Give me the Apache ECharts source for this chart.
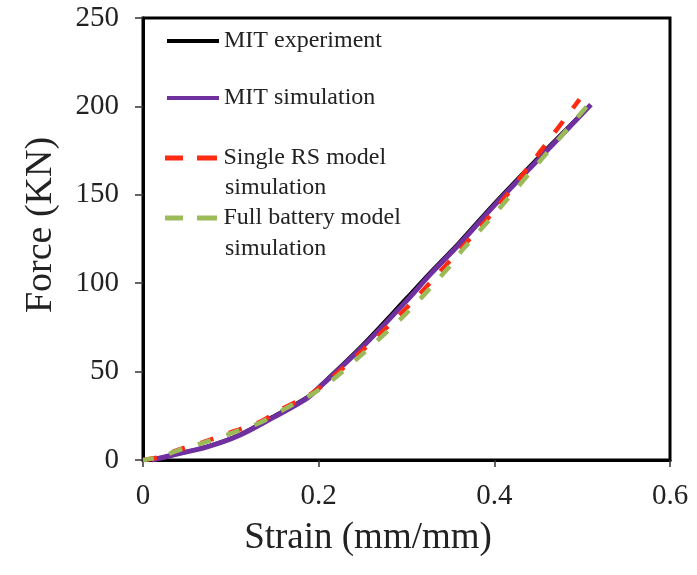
<!DOCTYPE html>
<html>
<head>
<meta charset="utf-8">
<script src="https://cdn.jsdelivr.net/npm/echarts@6/dist/echarts.min.js"></script>
<style>html,body{margin:0;padding:0;background:#fff;}#c{width:697px;height:575px;}</style>
</head>
<body>
<div id="c"></div>
<script>
// ---- data ----
const xTicks = [0, 0.2, 0.4, 0.6];
const yTicks = [0, 50, 100, 150, 200, 250];
const seriesNames = ['MIT experiment', 'MIT simulation', 'Single RS model\nsimulation', 'Full battery model\nsimulation'];
const mitExperiment = [[0.01,0],[0.034,2.8],[0.073,7.6],[0.11,14.3],[0.148,24.5],[0.187,35.5],[0.205,43.5],[0.25,65],[0.3,91.5],[0.327,106],[0.36,123],[0.4,145],[0.452,172],[0.5,196]];
const mitSimulation = [[0.01,0],[0.034,2.8],[0.073,7.4],[0.11,14],[0.148,24],[0.187,35],[0.205,43],[0.25,64],[0.3,90],[0.327,105],[0.36,122],[0.4,144],[0.452,171],[0.51,201]];
const singleRS = [[0,0],[0.02,1.7],[0.04,5.7],[0.068,10],[0.102,16],[0.133,21.5],[0.159,29],[0.19,37],[0.209,44],[0.25,62],[0.3,86],[0.35,113],[0.4,141],[0.45,173],[0.497,204]];
const fullBattery = [[0,0],[0.02,1.7],[0.04,5.5],[0.07,10],[0.1,15],[0.135,21.5],[0.16,28.5],[0.19,36.5],[0.21,43],[0.25,60],[0.3,83],[0.35,110],[0.364,119],[0.4,139],[0.45,168],[0.507,201]];

const serif = '"Liberation Serif", "DejaVu Serif", serif';
const colors = ['#000000', '#70309f', '#ff2a12', '#9bbb59'];
const dashIcon = 'path://M0,0h18v5h-18z M32,0h20v5h-20z';

const chart = echarts.init(document.getElementById('c'));

function legendFor(i, top, label) {
  const dashed = i >= 2;
  return {
    left: 165, top: top, padding: 0, orient: 'vertical',
    itemWidth: dashed ? 55 : 52, itemHeight: dashed ? 5 : 6, selectedMode: false,
    data: [dashed ? { name: seriesNames[i], icon: dashIcon } : seriesNames[i]],
    formatter: () => label,
    textStyle: { fontFamily: serif, fontSize: 24, color: '#222' },
    itemStyle: dashed ? { opacity: 1, borderWidth: 0 } : { opacity: 0, borderWidth: 0 },
    lineStyle: { width: 4 }
  };
}

chart.setOption({
  animation: false,
  backgroundColor: '#fff',
  grid: { left: 143, right: 27, top: 18, bottom: 115, show: true, borderColor: '#000', borderWidth: 3, backgroundColor: 'transparent' },
  xAxis: {
    type: 'value', min: xTicks[0], max: xTicks[xTicks.length - 1], interval: 0.2,
    axisLine: { show: true, lineStyle: { color: '#000', width: 3 } },
    axisTick: { show: true, inside: false, length: 7, lineStyle: { color: '#333', width: 1.5 } },
    axisLabel: { margin: 22, fontFamily: serif, fontSize: 29, color: '#222', formatter: v => String(+v.toFixed(1)) },
    splitLine: { show: false }
  },
  yAxis: {
    type: 'value', min: yTicks[0], max: yTicks[yTicks.length - 1], interval: 50,
    axisLine: { show: true, lineStyle: { color: '#000', width: 3 } },
    axisTick: { show: true, inside: false, length: 8, lineStyle: { color: '#333', width: 1.5 } },
    axisLabel: { margin: 24, fontFamily: serif, fontSize: 29, color: '#222' },
    splitLine: { show: false }
  },
  legend: [
    legendFor(0, 29, 'MIT experiment'),
    legendFor(1, 86, 'MIT simulation'),
    legendFor(2, 146, 'Single RS model'),
    legendFor(3, 206, 'Full battery model')
  ],
  graphic: [
    { type: 'text', left: 225, top: 176, style: { text: 'simulation', font: '24px ' + serif, fill: '#222' } },
    { type: 'text', left: 225, top: 237, style: { text: 'simulation', font: '24px ' + serif, fill: '#222' } },
    { type: 'text', x: 368, y: 538, style: { text: 'Strain (mm/mm)', font: '37px ' + serif, fill: '#222', align: 'center', verticalAlign: 'middle' } },
    { type: 'text', x: 41, y: 225, rotation: Math.PI / 2, style: { text: 'Force (KN)', font: '38px ' + serif, fill: '#222', align: 'center', verticalAlign: 'middle' } }
  ],
  series: [
    { name: seriesNames[0], type: 'line', data: mitExperiment, showSymbol: false, symbol: 'none', smooth: 0.3, lineStyle: { color: colors[0], width: 4 }, itemStyle: { color: colors[0] }, z: 2 },
    { name: seriesNames[1], type: 'line', data: mitSimulation, showSymbol: false, symbol: 'none', smooth: 0.3, lineStyle: { color: colors[1], width: 5 }, itemStyle: { color: colors[1] }, z: 3 },
    { name: seriesNames[2], type: 'line', data: singleRS, showSymbol: false, symbol: 'none', smooth: 0.3, lineStyle: { color: colors[2], width: 4.5, type: [14, 16] }, itemStyle: { color: colors[2] }, z: 4 },
    { name: seriesNames[3], type: 'line', data: fullBattery, showSymbol: false, symbol: 'none', smooth: 0.3, lineStyle: { color: colors[3], width: 4.5, type: [14, 16], dashOffset: 3 }, itemStyle: { color: colors[3] }, z: 5 }
  ]
});
</script>
</body>
</html>
